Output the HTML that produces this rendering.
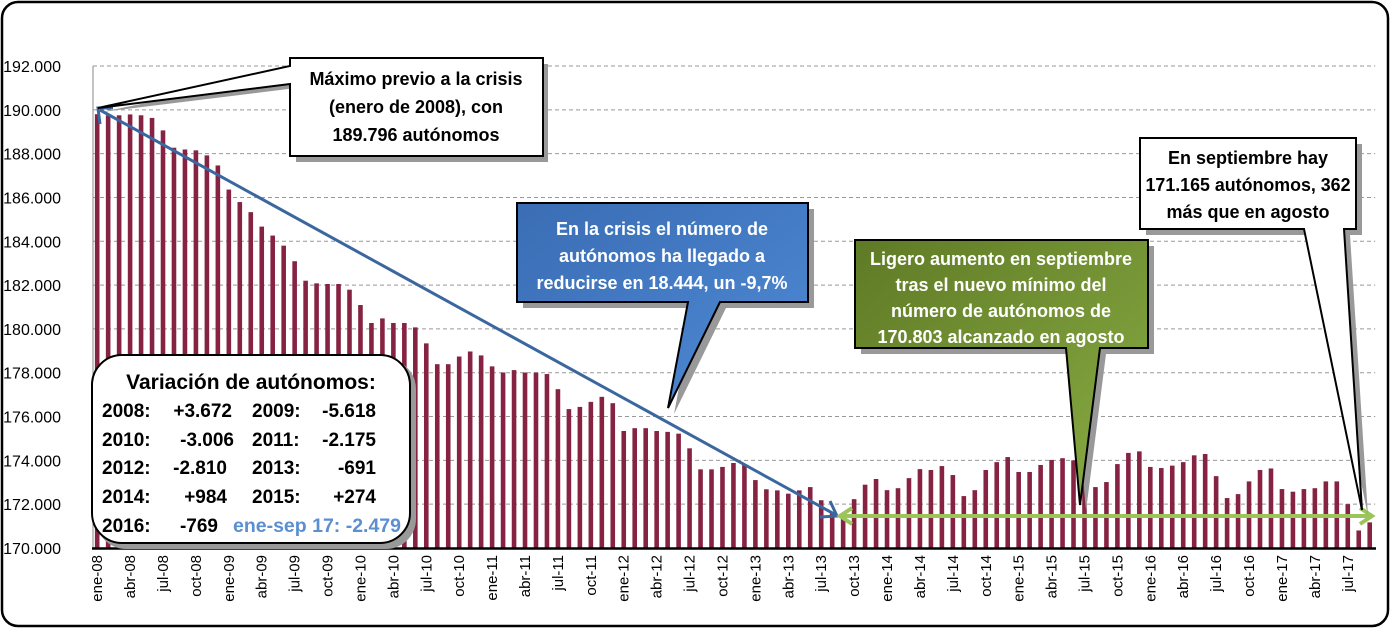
<!DOCTYPE html>
<html><head><meta charset="utf-8"><style>
html,body{margin:0;padding:0;background:#fff;}
svg{display:block;font-family:"Liberation Sans",sans-serif;}
</style></head><body>
<svg id="chart" width="1391" height="629" viewBox="0 0 1391 629" xmlns="http://www.w3.org/2000/svg">
<defs>
<linearGradient id="gBlue" x1="0" y1="0" x2="1" y2="1"><stop offset="0" stop-color="#3a6db4"/><stop offset="1" stop-color="#4f8ad6"/></linearGradient>
<linearGradient id="gGreen" x1="0" y1="0" x2="1" y2="1"><stop offset="0" stop-color="#5f7a25"/><stop offset="1" stop-color="#8aad45"/></linearGradient>
</defs>
<rect x="2" y="2" width="1386" height="624" rx="16" fill="#fff" stroke="#000" stroke-width="2.5"/>
<g id="grid"></g>
<g id="yaxis"></g>
<g id="bars"></g>
<g id="xaxis"></g>
<line x1="93" y1="66" x2="93" y2="548" stroke="#888" stroke-width="1"/>
<line x1="92" y1="548.5" x2="1376" y2="548.5" stroke="#000" stroke-width="2.5"/>

<g stroke="#3b679f" stroke-width="3" fill="none">
<line x1="100" y1="110" x2="836" y2="515"/>
<polyline points="100,124 98,108 113,108"/>
<polyline points="820,517 837,516 830,501"/>
</g>
<g stroke="#9bc55a" stroke-width="4" fill="none">
<line x1="840" y1="516" x2="1372" y2="516"/>
<polyline points="852,508 840,516 852,524"/>
<polyline points="1360,508 1372,516 1360,524"/>
</g>

<g>
<path d="M296,64 L548,64 L548,162 L296,162 L296,88 L102,112 L296,72 Z" fill="#999"/>
<path d="M290,58 L543,58 L543,156 L290,156 L290,84 L98,108 L290,66 Z" fill="#fff" stroke="#000" stroke-width="2"/>
<g font-weight="bold" font-size="18" text-anchor="middle" fill="#000">
<text x="416" y="85">Máximo previo a la crisis</text>
<text x="416" y="113">(enero de 2008), con</text>
<text x="416" y="141">189.796  autónomos</text>
</g></g>

<g>
<path d="M523,209 L814,209 L814,308 L726,308 L674,414 L694,308 L523,308 Z" fill="#999"/>
<path d="M517,203 L808,203 L808,302 L720,302 L668,408 L688,302 L517,302 Z" fill="url(#gBlue)" stroke="#000" stroke-width="2"/>
<g font-weight="bold" font-size="18" text-anchor="middle" fill="#fff">
<text x="662" y="235">En la crisis el número de</text>
<text x="662" y="262">autónomos ha llegado a</text>
<text x="662" y="289">reducirse en 18.444,  un -9,7%</text>
</g></g>

<g>
<path d="M861,246 L1154,246 L1154,354 L1106,354 L1086,511 L1072,354 L861,354 Z" fill="#999"/>
<path d="M855,240 L1148,240 L1148,348 L1100,348 L1080,505 L1066,348 L855,348 Z" fill="url(#gGreen)" stroke="#000" stroke-width="2"/>
<g font-weight="bold" font-size="18" text-anchor="middle" fill="#fff">
<text x="1001" y="265">Ligero aumento en septiembre</text>
<text x="1001" y="291">tras  el nuevo mínimo del</text>
<text x="1001" y="317">número  de autónomos de</text>
<text x="1001" y="343">170.803  alcanzado en agosto</text>
</g></g>

<g>
<path d="M1146,144 L1362,144 L1362,235 L1350,235 L1368,516 L1310,235 L1146,235 Z" fill="#999"/>
<path d="M1140,138 L1356,138 L1356,229 L1344,229 L1362,510 L1304,229 L1140,229 Z" fill="#fff" stroke="#000" stroke-width="2"/>
<g font-weight="bold" font-size="18" text-anchor="middle" fill="#000">
<text x="1248" y="164">En septiembre  hay</text>
<text x="1248" y="191" textLength="205" lengthAdjust="spacingAndGlyphs">171.165  autónomos, 362</text>
<text x="1248" y="218">más que en agosto</text>
</g></g>

<g>
<rect x="96" y="359" width="320" height="190" rx="30" fill="#999"/>
<rect x="92" y="355" width="318" height="188" rx="30" fill="#fff" stroke="#000" stroke-width="2"/>
<text x="251" y="389" text-anchor="middle" font-weight="bold" font-size="21">Variación de autónomos:</text>
<g font-weight="bold" font-size="19">
<text x="102" y="417">2008:</text><text x="232" y="417" text-anchor="end">+3.672</text>
<text x="252" y="417">2009:</text><text x="376" y="417" text-anchor="end">-5.618</text>
<text x="102" y="446">2010:</text><text x="234" y="446" text-anchor="end">-3.006</text>
<text x="252" y="446">2011:</text><text x="376" y="446" text-anchor="end">-2.175</text>
<text x="102" y="474">2012:</text><text x="227" y="474" text-anchor="end">-2.810</text>
<text x="252" y="474">2013:</text><text x="376" y="474" text-anchor="end">-691</text>
<text x="102" y="503">2014:</text><text x="227" y="503" text-anchor="end">+984</text>
<text x="252" y="503">2015:</text><text x="376" y="503" text-anchor="end">+274</text>
<text x="102" y="532">2016:</text><text x="218" y="532" text-anchor="end">-769</text>
<text x="233" y="532" fill="#5b8fd0" textLength="168" lengthAdjust="spacingAndGlyphs">ene-sep 17: -2.479</text>
</g></g>
</svg>
<script>
const months = ["ene","feb","mar","abr","may","jun","jul","ago","sep","oct","nov","dic"];
const startYear = 8;
const values = [
189.80,189.75,189.75,189.79,189.75,189.63,189.06,188.27,188.19,188.15,187.92,187.46,
186.36,185.79,185.33,184.67,184.26,183.80,183.09,182.20,182.08,182.05,182.05,181.79,
181.09,180.27,180.48,180.27,180.27,180.07,179.34,178.39,178.39,178.74,178.97,178.79,
178.29,178.01,178.12,178.01,178.01,177.94,177.25,176.34,176.44,176.67,176.90,176.61,
175.34,175.47,175.47,175.34,175.30,175.22,174.55,173.59,173.59,173.70,173.88,173.79,
173.10,172.68,172.63,172.48,172.63,172.78,172.18,171.60,171.40,172.23,172.89,173.15,
172.64,172.73,173.19,173.60,173.56,173.74,173.33,172.37,172.64,173.56,173.92,174.15,
173.47,173.47,173.79,174.02,174.10,174.00,173.30,172.78,173.01,173.83,174.34,174.41,
173.70,173.65,173.76,173.92,174.23,174.29,173.28,172.28,172.46,173.04,173.56,173.63,
172.69,172.57,172.69,172.73,173.04,173.04,172.00,170.80,171.17];
const yTicks = [170,172,174,176,178,180,182,184,186,188,190,192];
const yTickLabels = ["170.000","172.000","174.000","176.000","178.000","180.000","182.000","184.000","186.000","188.000","190.000","192.000"];

const NS = "http://www.w3.org/2000/svg";
const plotL = 91.7, plotR = 1375.2, yMin = 170, yMax = 192, pixBot = 548, pixTop = 66;
const band = (plotR - plotL) / values.length;
function xScale(i){ return plotL + (i + 0.5) * band; }
function yScale(v){ return pixBot - (v - yMin) / (yMax - yMin) * (pixBot - pixTop); }
function mk(tag, attrs, parent){ const e = document.createElementNS(NS, tag); for (const k in attrs) e.setAttribute(k, attrs[k]); parent.appendChild(e); return e; }

const grid = document.getElementById("grid"), yaxis = document.getElementById("yaxis");
yTicks.forEach((t, k) => {
  const y = yScale(t);
  if (k > 0) {
    const g = mk("line", {x1: 93, x2: plotR, y1: y, y2: y, stroke: "#999", "stroke-dasharray": "4,3", "stroke-width": 1}, grid);
    
    
  }
  const tx = mk("text", {x: 61, y: y + 6, "text-anchor": "end", "font-size": 16, fill: "#000"}, yaxis);
  tx.textContent = yTickLabels[k];
  
  
});

const bars = document.getElementById("bars"), xaxis = document.getElementById("xaxis");
values.forEach((v, i) => {
  const r = mk("rect", {x: xScale(i) - 2.3, y: yScale(v), width: 4.6, height: pixBot - yScale(v), fill: "#862343"}, bars);
  
  
  if (i % 3 === 0) {
    const lbl = months[i % 12] + "-" + String(startYear + Math.floor(i / 12)).padStart(2, "0");
    const x = xScale(i) + 5, y = 555;
    const t = mk("text", {x: x, y: y, "text-anchor": "end", "font-size": 15, transform: "rotate(-90 " + x + " " + y + ")"}, xaxis);
    t.textContent = lbl;
    
    
  }
});
</script>
</body></html>
